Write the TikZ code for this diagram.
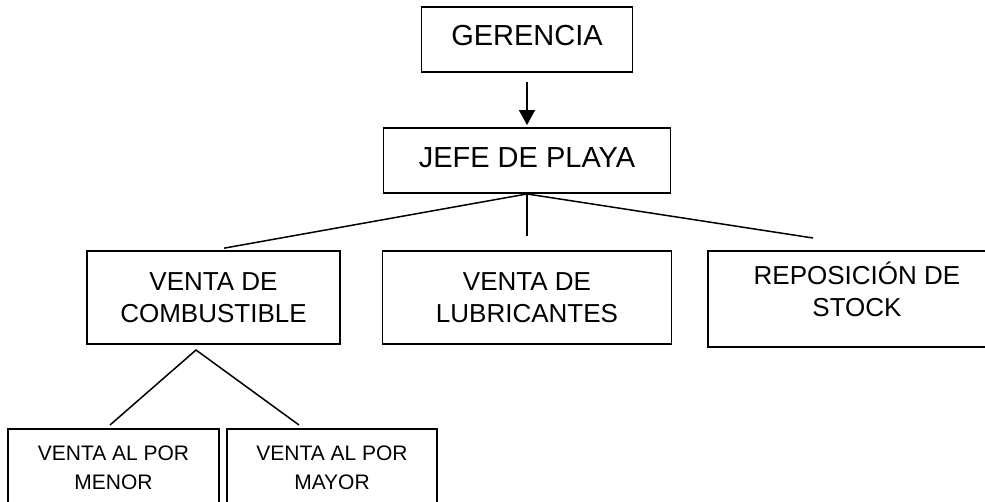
\documentclass[tikz,border=0pt]{standalone}
\usepackage{fontspec}
\setmainfont{Liberation Sans}
\usetikzlibrary{shapes,arrows.meta}

\begin{document}
\begin{tikzpicture}[x=1pt, y=-1pt,
    box/.style={draw, line width=1.9pt, align=center, inner sep=0pt},
    big/.style={font=\fontsize{29}{35}\selectfont},
    mid/.style={font=\fontsize{26}{32}\selectfont},
    small/.style={font=\fontsize{21}{29}\selectfont},
    link/.style={line width=1.5pt}]
\useasboundingbox (0,0) rectangle (985,501);
\clip (0,0) rectangle (985,501);
\node[box, big, minimum width=211pt, minimum height=65pt, text depth=9pt] (ger) at (527,39.5) {GERENCIA};
\node[box, big, minimum width=287pt, minimum height=65pt, text depth=6pt] (jefe) at (527,160.5) {JEFE DE PLAYA};
\node[box, mid, minimum width=253pt, minimum height=93pt] (comb) at (213.5,297.5) {VENTA DE\\COMBUSTIBLE};
\node[box, mid, minimum width=289pt, minimum height=93pt] (lub) at (527,297.5) {VENTA DE\\LUBRICANTES};
\node[box, mid, minimum width=298pt, minimum height=96pt, text depth=20pt] (repo) at (857,299) {REPOSICIÓN DE\\STOCK};
\node[box, small, minimum width=211pt, minimum height=77pt] (menor) at (113.5,467.5) {VENTA AL POR\\MENOR};
\node[box, small, minimum width=210pt, minimum height=77pt] (mayor) at (332,467.5) {VENTA AL POR\\MAYOR};
% connectors
\coordinate (repoEnd) at (813,238);
\coordinate (combFork) at (196,350);
\coordinate (menorEnd) at (110,425);
\coordinate (mayorEnd) at (299,425);
\draw[link, -{Triangle[width=16pt,length=15pt]}, shorten <=9pt, shorten >=2pt] (ger.south) -- (jefe.north);
\draw[link, shorten >=10.7pt] (jefe.south) -- (comb.north);
\draw[link, shorten >=14pt] (jefe.south) -- (lub.north);
\draw[link] (jefe.south) -- (repoEnd);
\draw[link] (menorEnd) -- (combFork) -- (mayorEnd);
\end{tikzpicture}
\end{document}
